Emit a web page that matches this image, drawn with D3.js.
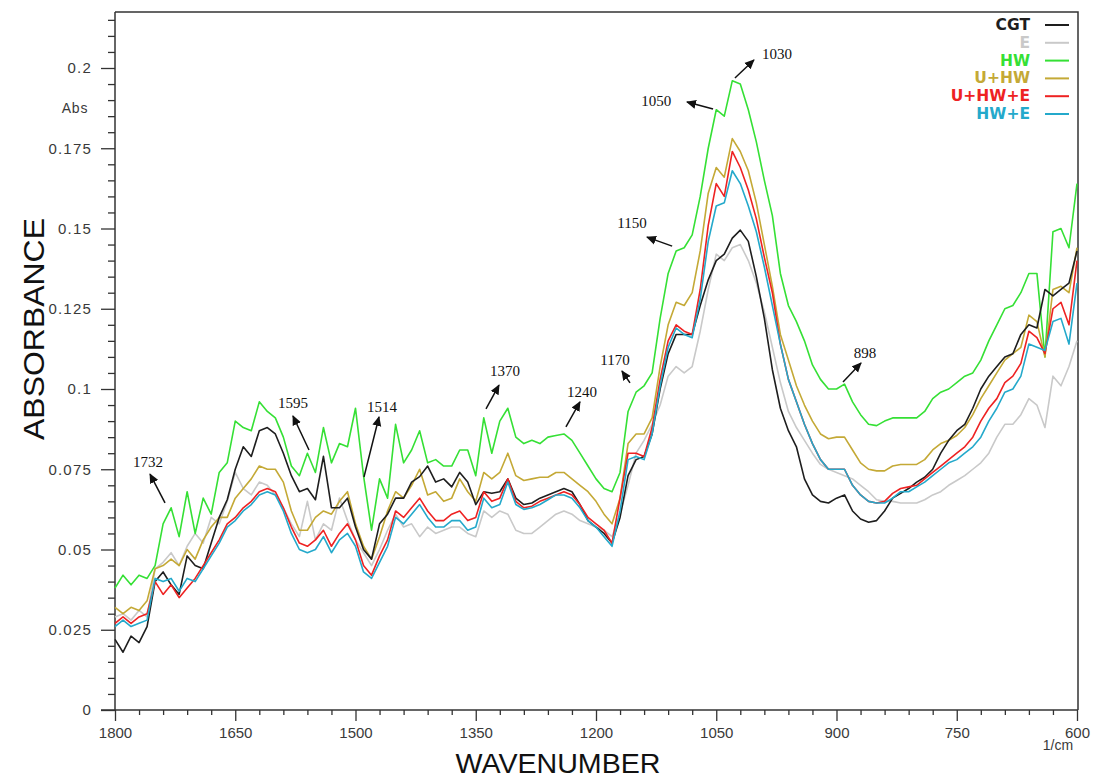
<!DOCTYPE html>
<html>
<head>
<meta charset="utf-8">
<script src="https://cdn.jsdelivr.net/npm/d3@7/dist/d3.min.js"></script>
<style>
  html, body { margin: 0; padding: 0; background: #fff; }
  svg { display: block; }
</style>
</head>
<body>
<svg id="chart" width="1096" height="780"></svg>
<script>
// ---------------- DATA ----------------
const wavenumbers = [
  1800,1790,1780,1770,1760,1750,1740,1730,1720,1710,
  1700,1690,1680,1670,1660,1650,1640,1630,1620,1610,
  1600,1590,1580,1570,1560,1550,1540,1530,1520,1510,
  1500,1490,1480,1470,1460,1450,1440,1430,1420,1410,
  1400,1390,1380,1370,1360,1350,1340,1330,1320,1310,
  1300,1290,1280,1270,1260,1250,1240,1230,1220,1210,
  1200,1190,1180,1170,1160,1150,1140,1130,1120,1110,
  1100,1090,1080,1070,1060,1050,1040,1030,1020,1010,
  1000,990,980,970,960,950,940,930,920,910,
  900,890,880,870,860,850,840,830,820,810,
  800,790,780,770,760,750,740,730,720,710,
  700,690,680,670,660,650,640,630,620,610,
  600
];

const seriesNames = ["CGT", "E", "HW", "U+HW", "U+HW+E", "HW+E"];

const cgt = [
  0.022,0.018,0.023,0.021,0.026,0.040,0.043,0.039,0.036,0.048,
  0.045,0.044,0.052,0.060,0.0655,0.075,0.082,0.079,0.087,0.088,
  0.086,0.080,0.073,0.068,0.069,0.0655,0.079,0.063,0.063,0.066,
  0.057,0.050,0.047,0.058,0.061,0.066,0.066,0.071,0.0727,0.076,
  0.071,0.072,0.0695,0.074,0.071,0.064,0.068,0.0675,0.068,0.072,
  0.066,0.064,0.0645,0.066,0.067,0.068,0.069,0.068,0.064,0.059,
  0.057,0.055,0.052,0.060,0.073,0.078,0.079,0.086,0.100,0.111,
  0.117,0.117,0.117,0.126,0.134,0.140,0.142,0.147,0.1495,0.146,
  0.135,0.122,0.106,0.094,0.087,0.082,0.072,0.067,0.065,0.0645,
  0.066,0.067,0.062,0.0595,0.0585,0.059,0.062,0.066,0.0675,0.069,
  0.071,0.0725,0.075,0.080,0.084,0.087,0.089,0.094,0.100,0.104,
  0.107,0.110,0.111,0.117,0.120,0.119,0.131,0.129,0.131,0.133,
  0.143
];

const e = [
  0.029,0.030,0.028,0.031,0.029,0.044,0.046,0.049,0.045,0.051,
  0.055,0.052,0.060,0.058,0.065,0.074,0.069,0.067,0.071,0.070,
  0.067,0.063,0.058,0.054,0.065,0.053,0.058,0.056,0.066,0.059,
  0.053,0.049,0.045,0.050,0.056,0.061,0.057,0.058,0.054,0.057,
  0.055,0.056,0.057,0.057,0.055,0.054,0.062,0.060,0.062,0.061,
  0.056,0.055,0.055,0.057,0.059,0.061,0.062,0.061,0.059,0.058,
  0.057,0.056,0.054,0.061,0.070,0.080,0.084,0.089,0.095,0.104,
  0.107,0.105,0.107,0.118,0.131,0.142,0.140,0.144,0.145,0.140,
  0.133,0.124,0.113,0.102,0.093,0.088,0.084,0.080,0.0765,0.075,
  0.074,0.073,0.072,0.070,0.068,0.0655,0.065,0.065,0.0645,0.0645,
  0.0645,0.0655,0.067,0.068,0.070,0.0715,0.073,0.075,0.077,0.080,
  0.085,0.089,0.089,0.092,0.097,0.095,0.088,0.104,0.101,0.107,
  0.115
];

const hw = [
  0.038,0.042,0.039,0.042,0.041,0.045,0.058,0.063,0.054,0.068,
  0.055,0.066,0.061,0.074,0.077,0.090,0.088,0.087,0.096,0.093,
  0.091,0.085,0.076,0.073,0.080,0.074,0.088,0.077,0.083,0.082,
  0.094,0.073,0.056,0.072,0.066,0.089,0.077,0.081,0.087,0.077,
  0.078,0.076,0.076,0.081,0.081,0.073,0.091,0.080,0.090,0.094,
  0.085,0.083,0.084,0.083,0.085,0.0855,0.086,0.084,0.080,0.076,
  0.072,0.069,0.068,0.074,0.093,0.099,0.101,0.105,0.122,0.136,
  0.143,0.144,0.148,0.160,0.175,0.187,0.185,0.196,0.195,0.187,
  0.177,0.165,0.154,0.136,0.126,0.121,0.115,0.1075,0.103,0.100,
  0.100,0.1015,0.096,0.092,0.089,0.0886,0.090,0.091,0.091,0.091,
  0.091,0.093,0.097,0.099,0.100,0.102,0.104,0.105,0.109,0.115,
  0.120,0.125,0.126,0.130,0.136,0.136,0.110,0.149,0.150,0.144,
  0.164
];

const uhw = [
  0.032,0.030,0.032,0.031,0.034,0.044,0.045,0.047,0.045,0.050,
  0.047,0.053,0.057,0.060,0.060,0.066,0.069,0.072,0.076,0.075,
  0.075,0.071,0.062,0.056,0.056,0.060,0.062,0.061,0.065,0.068,
  0.058,0.051,0.047,0.054,0.062,0.068,0.066,0.070,0.075,0.067,
  0.068,0.065,0.066,0.072,0.068,0.065,0.074,0.072,0.074,0.080,
  0.073,0.0715,0.072,0.0725,0.0725,0.074,0.074,0.072,0.070,0.068,
  0.065,0.061,0.058,0.066,0.083,0.086,0.086,0.091,0.107,0.120,
  0.127,0.126,0.130,0.143,0.161,0.169,0.166,0.178,0.174,0.168,
  0.158,0.145,0.132,0.117,0.109,0.101,0.095,0.090,0.086,0.0845,
  0.085,0.085,0.081,0.077,0.075,0.0745,0.0745,0.076,0.0765,0.0765,
  0.0765,0.078,0.081,0.083,0.084,0.0855,0.088,0.092,0.097,0.101,
  0.105,0.109,0.111,0.113,0.123,0.121,0.110,0.131,0.132,0.130,
  0.144
];

const uhwe = [
  0.027,0.029,0.027,0.029,0.030,0.040,0.036,0.039,0.035,0.038,
  0.041,0.045,0.049,0.053,0.058,0.060,0.063,0.065,0.068,0.069,
  0.068,0.063,0.057,0.052,0.051,0.053,0.056,0.051,0.055,0.058,
  0.053,0.045,0.042,0.048,0.053,0.062,0.060,0.063,0.066,0.062,
  0.059,0.059,0.061,0.062,0.059,0.060,0.068,0.065,0.066,0.072,
  0.065,0.063,0.0635,0.065,0.066,0.067,0.068,0.067,0.064,0.060,
  0.058,0.056,0.052,0.066,0.080,0.080,0.079,0.088,0.103,0.115,
  0.120,0.118,0.117,0.131,0.151,0.164,0.160,0.174,0.169,0.162,
  0.153,0.141,0.130,0.114,0.103,0.096,0.089,0.083,0.078,0.075,
  0.075,0.075,0.070,0.067,0.065,0.0645,0.065,0.0675,0.069,0.0695,
  0.070,0.072,0.074,0.076,0.078,0.080,0.082,0.085,0.090,0.094,
  0.097,0.102,0.104,0.108,0.118,0.116,0.111,0.125,0.127,0.120,
  0.140
];

const hwe = [
  0.026,0.028,0.026,0.027,0.028,0.041,0.040,0.041,0.037,0.041,
  0.040,0.044,0.048,0.052,0.057,0.059,0.062,0.064,0.067,0.068,
  0.067,0.062,0.055,0.050,0.049,0.050,0.054,0.049,0.053,0.055,
  0.051,0.043,0.041,0.046,0.051,0.060,0.058,0.061,0.064,0.060,
  0.057,0.057,0.059,0.059,0.056,0.057,0.066,0.063,0.064,0.071,
  0.064,0.0625,0.063,0.064,0.0655,0.067,0.067,0.066,0.063,0.059,
  0.057,0.054,0.051,0.062,0.078,0.079,0.078,0.086,0.101,0.113,
  0.119,0.117,0.116,0.128,0.146,0.157,0.158,0.168,0.164,0.157,
  0.149,0.138,0.126,0.114,0.103,0.096,0.089,0.083,0.078,0.075,
  0.075,0.075,0.070,0.067,0.065,0.0645,0.0645,0.066,0.068,0.068,
  0.0695,0.071,0.073,0.075,0.077,0.078,0.080,0.082,0.085,0.090,
  0.094,0.099,0.100,0.104,0.114,0.113,0.112,0.121,0.122,0.114,
  0.133
];

const seriesColors = ["#1e1e1e", "#c9c9c9", "#35e035", "#c4a936", "#ee2222", "#24a9cb"];
const seriesValues = [cgt, e, hw, uhw, uhwe, hwe];
// drawing order (indices into the series above), bottom first
const drawOrder = [1, 2, 3, 0, 4, 5];

const xMajorTicks = [1800, 1650, 1500, 1350, 1200, 1050, 900, 750, 600];
const xTickLabels = ["1800", "1650", "1500", "1350", "1200", "1050", "900", "750", "600"];
const xMinorTicks = [1770,1740,1710,1680,1620,1590,1560,1530,1470,1440,1410,1380,1320,1290,1260,1230,
                     1170,1140,1110,1080,1020,990,960,930,870,840,810,780,720,690,660,630];
const yMajorTicks = [0, 0.025, 0.05, 0.075, 0.1, 0.125, 0.15, 0.175, 0.2];
const yTickLabels = ["0", "0.025", "0.05", "0.075", "0.1", "0.125", "0.15", "0.175", "0.2"];
const yMinorTicks = [0.005,0.01,0.015,0.02,0.03,0.035,0.04,0.045,0.055,0.06,0.065,0.07,0.08,0.085,0.09,0.095,
                     0.105,0.11,0.115,0.12,0.13,0.135,0.14,0.145,0.155,0.16,0.165,0.17,0.18,0.185,0.19,0.195,
                     0.205,0.21,0.215];

// peak annotations: label, text position, arrow tail, arrow head (wavenumber, absorbance)
const annotations = [
  { label: "1732", text: [1758.8, 0.0773], tail: [1737.6, 0.0645], head: [1756.3, 0.0735] },
  { label: "1595", text: [1578.0, 0.0956], tail: [1558.0, 0.0810], head: [1578.0, 0.0916] },
  { label: "1514", text: [1467.0, 0.0944], tail: [1489.4, 0.0726], head: [1470.7, 0.0913] },
  { label: "1370", text: [1313.5, 0.1056], tail: [1337.2, 0.0938], head: [1321.0, 0.1012] },
  { label: "1240", text: [1217.5, 0.0991], tail: [1237.5, 0.0882], head: [1220.0, 0.0960] },
  { label: "1170", text: [1176.3, 0.1090], tail: [1157.6, 0.1019], head: [1167.6, 0.1056] },
  { label: "1150", text: [1155.0, 0.1517], tail: [1105.0, 0.1445], head: [1136.4, 0.1473] },
  { label: "1050", text: [1125.0, 0.1897], tail: [1054.0, 0.1872], head: [1086.5, 0.1894] },
  { label: "1030", text: [974.3, 0.2044],  tail: [1026.7, 0.1969], head: [1003.0, 0.2025] },
  { label: "898",  text: [864.5, 0.1112],  tail: [891.9, 0.1022],  head: [869.4, 0.1081] }
];

// ---------------- CHART ----------------
const svg = d3.select("#chart");
const plot = { left: 115, right: 1078, top: 12, bottom: 710 };

const x = d3.scaleLinear().domain([1800, 600]).range([115, 1077]);
const y = d3.scaleLinear().domain([0, 0.2]).range([710, 68]);

const axisColor = "#333";

// frame (top and right borders)
svg.append("path")
  .attr("d", `M${plot.left},${plot.top}H${plot.right}V${plot.bottom}`)
  .attr("fill", "none").attr("stroke", axisColor).attr("stroke-width", 1.5);

// y axis: minor ticks
svg.append("g").attr("transform", `translate(${plot.left},0)`)
  .call(d3.axisLeft(y).tickValues(yMinorTicks).tickSize(7).tickFormat(""))
  .call(g => g.select(".domain").remove())
  .call(g => g.selectAll("line").attr("stroke", axisColor).attr("stroke-width", 1.3));

// y axis: major ticks and labels
const yAxisG = svg.append("g").attr("transform", `translate(${plot.left},0)`)
  .call(d3.axisLeft(y).tickValues(yMajorTicks).tickSize(14).tickPadding(9)
        .tickFormat((d, i) => yTickLabels[i]));
yAxisG.select(".domain").remove();
yAxisG.selectAll("line").attr("stroke", axisColor).attr("stroke-width", 1.3);
yAxisG.selectAll("text")
  .attr("font-family", "'Liberation Sans', Arial, sans-serif")
  .attr("font-size", 15).attr("fill", "#3a3a3a").attr("letter-spacing", 1.2);

// left axis line
svg.append("line")
  .attr("x1", plot.left).attr("x2", plot.left)
  .attr("y1", plot.top).attr("y2", plot.bottom)
  .attr("stroke", axisColor).attr("stroke-width", 1.5);

// x axis: minor ticks
svg.append("g").attr("transform", `translate(0,${plot.bottom})`)
  .call(d3.axisBottom(x).tickValues(xMinorTicks).tickSize(5).tickFormat(""))
  .call(g => g.select(".domain").remove())
  .call(g => g.selectAll("line").attr("stroke", axisColor).attr("stroke-width", 1.3));

// x axis: major ticks and labels
const xAxisG = svg.append("g").attr("transform", `translate(0,${plot.bottom})`)
  .call(d3.axisBottom(x).tickValues(xMajorTicks).tickSize(11).tickPadding(6)
        .tickFormat((d, i) => xTickLabels[i]));
xAxisG.select(".domain").remove();
xAxisG.selectAll("line").attr("stroke", axisColor).attr("stroke-width", 1.3);
xAxisG.selectAll("text")
  .attr("font-family", "'Liberation Sans', Arial, sans-serif")
  .attr("font-size", 15).attr("fill", "#3a3a3a");

// bottom axis line
svg.append("line")
  .attr("x1", plot.left - 14).attr("x2", plot.right)
  .attr("y1", plot.bottom).attr("y2", plot.bottom)
  .attr("stroke", axisColor).attr("stroke-width", 1.5);

// axis titles
svg.append("text")
  .attr("x", 75).attr("y", 113)
  .attr("text-anchor", "middle")
  .attr("font-family", "'Liberation Sans', Arial, sans-serif")
  .attr("font-size", 14).attr("fill", "#3a3a3a").attr("letter-spacing", 0.8)
  .text("Abs");

svg.append("text")
  .attr("x", 1058).attr("y", 750)
  .attr("text-anchor", "middle")
  .attr("font-family", "'Liberation Sans', Arial, sans-serif")
  .attr("font-size", 14).attr("fill", "#3a3a3a")
  .text("1/cm");

svg.append("text")
  .attr("transform", "translate(44,329) rotate(-90)")
  .attr("text-anchor", "middle")
  .attr("font-family", "'Liberation Sans', Arial, sans-serif")
  .attr("font-size", 29).attr("fill", "#111")
  .attr("textLength", 222).attr("lengthAdjust", "spacingAndGlyphs")
  .text("ABSORBANCE");

svg.append("text")
  .attr("x", 558).attr("y", 773)
  .attr("text-anchor", "middle")
  .attr("font-family", "'Liberation Sans', Arial, sans-serif")
  .attr("font-size", 27).attr("fill", "#111")
  .attr("textLength", 205).attr("lengthAdjust", "spacingAndGlyphs")
  .text("WAVENUMBER");

// spectra
const line = d3.line()
  .x((d, i) => x(wavenumbers[i]))
  .y(d => y(d));

svg.append("g").selectAll("path")
  .data(drawOrder)
  .join("path")
  .attr("d", k => line(seriesValues[k]))
  .attr("fill", "none")
  .attr("stroke", k => seriesColors[k])
  .attr("stroke-width", 1.6)
  .attr("stroke-linejoin", "round");

// annotations
svg.append("defs").append("marker")
  .attr("id", "arrowHead")
  .attr("viewBox", "0 0 10 10")
  .attr("refX", 9).attr("refY", 5)
  .attr("markerWidth", 10).attr("markerHeight", 10)
  .attr("markerUnits", "userSpaceOnUse")
  .attr("orient", "auto")
  .append("path").attr("d", "M0,0.5L10,5L0,9.5Z").attr("fill", "#111");

const ann = svg.append("g");
ann.selectAll("line")
  .data(annotations)
  .join("line")
  .attr("x1", d => x(d.tail[0])).attr("y1", d => y(d.tail[1]))
  .attr("x2", d => x(d.head[0])).attr("y2", d => y(d.head[1]))
  .attr("stroke", "#111").attr("stroke-width", 1.5)
  .attr("marker-end", "url(#arrowHead)");
ann.selectAll("text")
  .data(annotations)
  .join("text")
  .attr("x", d => x(d.text[0])).attr("y", d => y(d.text[1]))
  .attr("text-anchor", "middle").attr("dominant-baseline", "central")
  .attr("font-family", "'Liberation Serif', 'DejaVu Serif', serif")
  .attr("font-size", 15).attr("fill", "#111")
  .text(d => d.label);

// legend
const legend = svg.append("g");
const legendRows = legend.selectAll("g")
  .data(seriesNames)
  .join("g")
  .attr("transform", (d, i) => `translate(0,${25 + i * 17.8})`);
legendRows.append("text")
  .attr("x", 1030).attr("y", 0)
  .attr("text-anchor", "end").attr("dominant-baseline", "central")
  .attr("font-family", "'DejaVu Sans', Arial, sans-serif")
  .attr("font-weight", "bold").attr("font-size", 15.5)
  .attr("fill", (d, i) => seriesColors[i])
  .text(d => d);
legendRows.append("line")
  .attr("x1", 1045).attr("x2", 1069)
  .attr("y1", 0).attr("y2", 0)
  .attr("stroke", (d, i) => seriesColors[i])
  .attr("stroke-width", 2);
</script>
</body>
</html>
